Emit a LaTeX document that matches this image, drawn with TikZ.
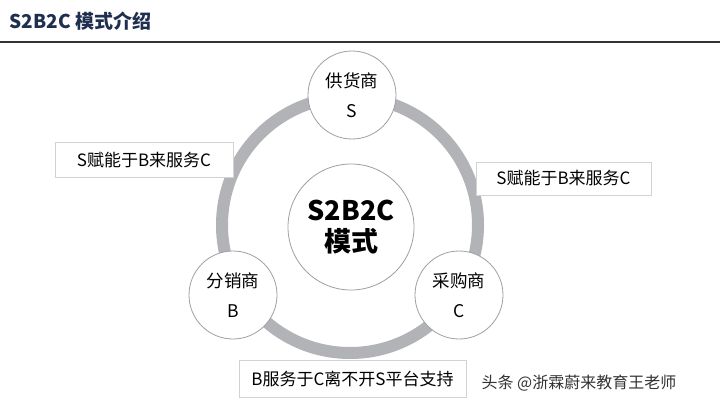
\documentclass[tikz,border=0pt]{standalone}
\usepackage{fontspec}
\setmainfont{Noto Sans CJK SC}
\definecolor{titleblue}{HTML}{1F2F4F}
\definecolor{ringgray}{HTML}{B2B3B7}
\begin{document}
\begin{tikzpicture}[x=1pt,y=-1pt,
	party_node/.style={circle,draw=gray!75,fill=white,line width=0.8pt,minimum size=88pt,inner sep=0pt,align=center,font=\fontsize{17.5}{30}\selectfont},
	core_node/.style={circle,draw=gray!75,fill=white,line width=0.8pt,minimum size=126pt,inner sep=0pt,align=center,font=\bfseries\fontsize{27}{31}\selectfont},
	note_node/.style={draw=gray!35,line width=1pt,fill=white,minimum height=35pt,inner xsep=8pt,font=\fontsize{17}{20}\selectfont}]
		
		\fill[white] (0,0) rectangle (720,407);
		\useasboundingbox (0,0) rectangle (720,407);
		
		\node[anchor=west,text=titleblue,font=\bfseries\fontsize{19}{22}\selectfont] (title) at (6,21) {S2B2C 模式介绍};
		\coordinate (rule_l) at (0,42);
		\coordinate (rule_r) at (720,42);
		\draw[line width=2pt,black!80] (rule_l) -- (rule_r);
		
		\coordinate (hub) at (350,225);
		\draw[ringgray,line width=12pt] (hub) circle (128);
		
		\node[core_node] (core) at (351,227) {S2B2C\\模式};
		\node[party_node] (S) at (352,95) {供货商\\S};
		\node[party_node] (B) at (233,295) {分销商\\B};
		\node[party_node] (C) at (459,295) {采购商\\C};
		
		\node[note_node,minimum width=178pt] (sb) at (144,160) {S赋能于B来服务C};
		\node[note_node,minimum width=175pt,minimum height=33pt] (bc) at (563.5,178.5) {S赋能于B来服务C};
		\node[note_node,minimum width=227pt,minimum height=37pt] (sc) at (352.5,379) {B服务于C离不开S平台支持};
		
		\node[anchor=west,text=black!80,font=\fontsize{16}{20}\selectfont] (mark) at (478,383) {头条 @浙霖蔚来教育王老师};
		\end{tikzpicture}
\end{document}
